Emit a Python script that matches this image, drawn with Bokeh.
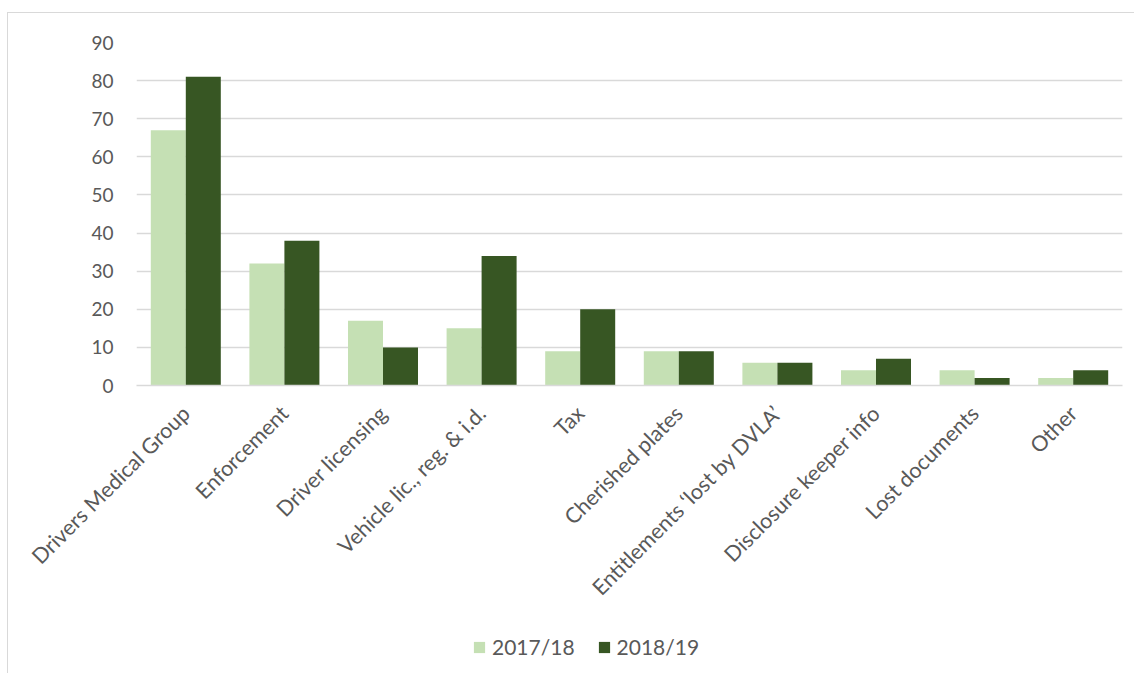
from bokeh.plotting import figure
from bokeh.models import ColumnDataSource, Legend, LegendItem, FactorRange
from bokeh.layouts import column
from bokeh.transform import dodge
from bokeh.embed import file_html
from bokeh.resources import INLINE
import math

categories = ["Drivers Medical Group", "Enforcement", "Driver licensing",
              "Vehicle lic., reg. & i.d.", "Tax", "Cherished plates",
              "Entitlements \u2018lost by DVLA\u2019", "Disclosure keeper info",
              "Lost documents", "Other"]
series_2017 = [67, 32, 17, 15, 9, 9, 6, 4, 4, 2]
series_2018 = [81, 38, 10, 34, 20, 9, 6, 7, 2, 4]
series_names = ["2017/18", "2018/19"]
y_ticks = [0, 10, 20, 30, 40, 50, 60, 70, 80, 90]
colors = ["#c5e0b4", "#375623"]

src = ColumnDataSource(dict(cat=categories, a=series_2017, b=series_2018))

FONT = "Lato"
TXT = "#595959"
GRID = "#d9d9d9"

p = figure(x_range=FactorRange(*categories, range_padding=0), y_range=(0, 90),
           width=1126, height=610, output_backend="svg", toolbar_location=None,
           min_border_left=128, min_border_right=12, min_border_top=29,
           min_border_bottom=238)

r1 = p.vbar(x=dodge("cat", -0.1775, range=p.x_range), top="a", width=0.355,
            source=src, fill_color=colors[0], line_color=None)
r2 = p.vbar(x=dodge("cat", 0.1775, range=p.x_range), top="b", width=0.355,
            source=src, fill_color=colors[1], line_color=None)

p.outline_line_color = None
p.xgrid.grid_line_color = None
p.ygrid.grid_line_color = GRID
p.ygrid.grid_line_width = 1.5
p.yaxis.ticker = y_ticks
p.yaxis.axis_line_color = None
p.yaxis.major_tick_line_color = None
p.yaxis.minor_tick_line_color = None
p.yaxis.major_tick_out = 0
p.yaxis.minor_tick_out = 0
p.yaxis.major_label_text_font = FONT
p.yaxis.major_label_text_font_size = "19px"
p.yaxis.major_label_text_color = TXT
p.yaxis.major_label_standoff = 23

p.xaxis.axis_line_color = GRID
p.xaxis.axis_line_width = 1.5
p.xaxis.major_tick_line_color = None
p.xaxis.minor_tick_line_color = None
p.xaxis.major_tick_out = 0
p.xaxis.minor_tick_out = 0
p.xaxis.major_label_orientation = math.pi / 4
p.xaxis.major_label_text_font = FONT
p.xaxis.major_label_text_font_size = "21.5px"
p.xaxis.major_label_text_color = TXT
p.xaxis.major_label_standoff = 24

# legend strip below the chart (swatch renderers sit outside the visible range)
lg = figure(width=1126, height=50, output_backend="svg", toolbar_location=None,
            x_range=(0, 1), y_range=(0, 1), x_axis_type=None, y_axis_type=None,
            min_border=0)
lg.outline_line_color = None
lg.grid.visible = False
swatch = ColumnDataSource(dict(x=[-10], top=[0]))
d1 = lg.vbar(x="x", top="top", width=0.1, source=swatch, fill_color=colors[0], line_color=None)
d2 = lg.vbar(x="x", top="top", width=0.1, source=swatch, fill_color=colors[1], line_color=None)

legend = Legend(items=[LegendItem(label=series_names[0], renderers=[d1]),
                       LegendItem(label=series_names[1], renderers=[d2])],
                orientation="horizontal", location=(336, 14),
                label_text_font=FONT, label_text_font_size="21px",
                label_text_color=TXT, glyph_width=14, glyph_height=14,
                label_standoff=6, spacing=22, border_line_color=None,
                background_fill_alpha=0, margin=0, padding=0)
lg.add_layout(legend, "center")

layout = column(p, lg, spacing=0)
layout.margin = (12, 0, 0, 7)
layout.styles = {"border-left": "1.5px solid #d9d9d9", "border-top": "1.5px solid #d9d9d9"}

open("out.html", "w").write(file_html(layout, INLINE))
